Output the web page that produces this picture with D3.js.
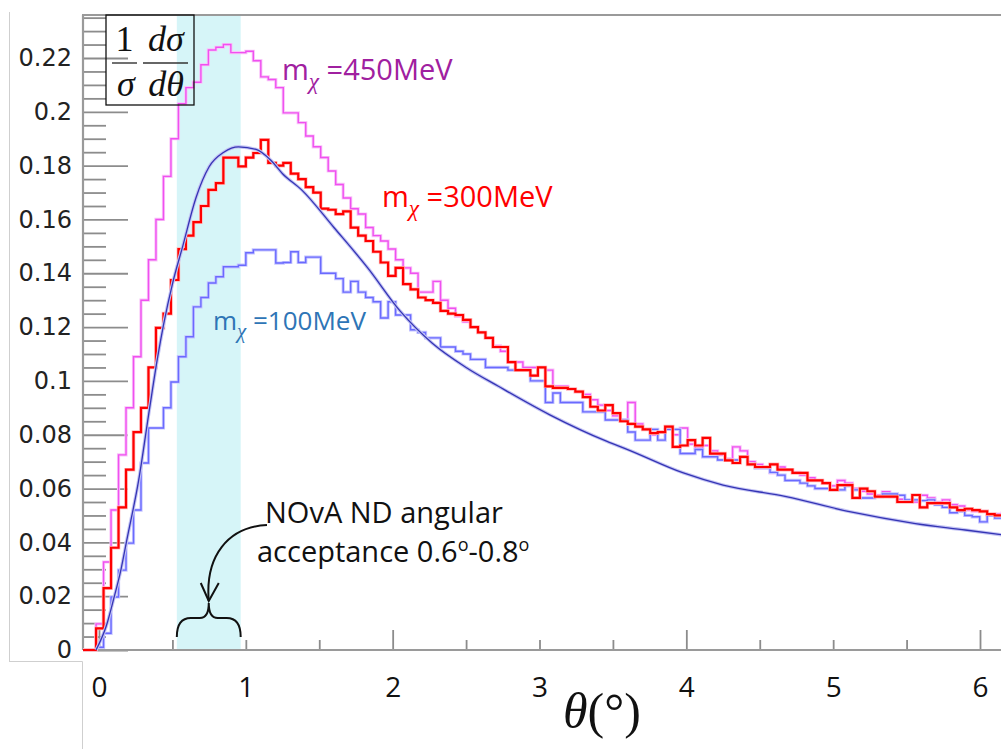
<!DOCTYPE html>
<html lang="en">
<head>
<meta charset="utf-8">
<title>Dark matter angular distribution</title>
<script src="https://cdn.jsdelivr.net/npm/d3@7/dist/d3.min.js"></script>
<style>
  body { margin: 0; background: #fff; }
  svg { display: block; }
</style>
</head>
<body>
<script>
// histogram binning (theta in degrees)
var binStart = -0.02;
var binWidth = 0.051;

// m_chi = 450 MeV
var mass450 = [
  0.0097, 0.0327, 0.052, 0.0725, 0.090, 0.109, 0.130, 0.145, 0.160, 0.176,
  0.190, 0.203, 0.209, 0.211, 0.2175, 0.223, 0.224, 0.225, 0.222, 0.222,
  0.2225, 0.219, 0.213, 0.212, 0.209, 0.1996, 0.1996, 0.196, 0.191, 0.187,
  0.183, 0.178, 0.173, 0.168, 0.164, 0.162, 0.157, 0.154, 0.152, 0.149,
  0.145, 0.142, 0.140, 0.133, 0.133, 0.137, 0.130, 0.127, 0.124, 0.122,
  0.120, 0.118, 0.116, 0.113, 0.111, 0.107, 0.107, 0.105, 0.105, 0.105,
  0.104, 0.098, 0.098, 0.097, 0.096, 0.095, 0.093, 0.091, 0.089, 0.087,
  0.0855, 0.092, 0.084, 0.082, 0.080, 0.081, 0.082, 0.080, 0.0825, 0.0765,
  0.075, 0.076, 0.074, 0.0725, 0.071, 0.0755, 0.074, 0.070, 0.069, 0.068,
  0.0658, 0.068, 0.067, 0.066, 0.065, 0.064, 0.063, 0.062, 0.061, 0.063,
  0.062, 0.060, 0.059, 0.058, 0.0575, 0.0588, 0.057, 0.056, 0.0555, 0.055,
  0.0575, 0.0565, 0.055, 0.0558, 0.054, 0.0535, 0.052, 0.0515, 0.0515, 0.050,
  0.0505, 0.051
];

// m_chi = 300 MeV
var mass300 = [
  0.008, 0.023, 0.038, 0.053, 0.067, 0.081, 0.090, 0.105, 0.1197, 0.125,
  0.1375, 0.149, 0.154, 0.159, 0.165, 0.171, 0.1735, 0.183, 0.183, 0.1797,
  0.183, 0.1847, 0.1896, 0.181, 0.180, 0.181, 0.177, 0.175, 0.172, 0.170,
  0.164, 0.1636, 0.162, 0.163, 0.157, 0.154, 0.152, 0.148, 0.144, 0.139,
  0.142, 0.136, 0.134, 0.131, 0.130, 0.129, 0.126, 0.125, 0.1245, 0.1227,
  0.120, 0.118, 0.116, 0.1126, 0.1126, 0.107, 0.104, 0.104, 0.102, 0.105,
  0.098, 0.0974, 0.0974, 0.097, 0.096, 0.094, 0.0904, 0.089, 0.091, 0.088,
  0.085, 0.084, 0.083, 0.082, 0.0806, 0.081, 0.083, 0.0755, 0.076, 0.078,
  0.076, 0.0788, 0.073, 0.073, 0.0705, 0.0695, 0.0718, 0.069, 0.068, 0.068,
  0.069, 0.067, 0.067, 0.0658, 0.0658, 0.063, 0.063, 0.062, 0.0595, 0.0613,
  0.0613, 0.0565, 0.060, 0.059, 0.057, 0.057, 0.057, 0.055, 0.055, 0.0576,
  0.053, 0.0546, 0.0546, 0.0546, 0.053, 0.052, 0.0525, 0.052, 0.0515, 0.0505,
  0.050, 0.050
];

// m_chi = 100 MeV
var mass100 = [
  0.001, 0.0062, 0.0197, 0.0297, 0.0397, 0.052, 0.0695, 0.0825, 0.0825, 0.090,
  0.0996, 0.109, 0.1164, 0.1275, 0.131, 0.1364, 0.1387, 0.1424, 0.1424, 0.143,
  0.1476, 0.1487, 0.1487, 0.1487, 0.1438, 0.144, 0.148, 0.144, 0.146, 0.146,
  0.140, 0.140, 0.138, 0.133, 0.137, 0.133, 0.131, 0.1294, 0.1234, 0.1294,
  0.1245, 0.1245, 0.119, 0.118, 0.116, 0.116, 0.1126, 0.1126, 0.111, 0.110,
  0.108, 0.108, 0.105, 0.105, 0.105, 0.104, 0.104, 0.104, 0.100, 0.100,
  0.092, 0.0955, 0.092, 0.092, 0.092, 0.0885, 0.0885, 0.0885, 0.0855, 0.0855,
  0.0855, 0.081, 0.078, 0.078, 0.082, 0.078, 0.082, 0.082, 0.073, 0.073,
  0.0745, 0.0718, 0.0718, 0.0706, 0.0706, 0.0706, 0.0718, 0.069, 0.0676, 0.0676,
  0.066, 0.065, 0.063, 0.063, 0.062, 0.061, 0.060, 0.060, 0.0595, 0.0595,
  0.061, 0.0595, 0.0565, 0.0565, 0.057, 0.058, 0.058, 0.0575, 0.0558, 0.0558,
  0.0555, 0.0558, 0.054, 0.053, 0.051, 0.0515, 0.050, 0.0495, 0.0476, 0.050,
  0.049, 0.049
];

// smooth reference curve
var fitTheta = [-0.02, 0.05, 0.1, 0.15, 0.19, 0.27, 0.345, 0.40, 0.44, 0.5,
  0.57, 0.66, 0.75, 0.85, 0.95, 1.07, 1.17, 1.25, 1.38, 1.6,
  1.83, 2.05, 2.27, 2.5, 2.72, 3.07, 3.46, 3.6, 3.98, 4.25,
  4.68, 5.12, 5.56, 5.9, 6.15];
var fitValue = [0, 0.009, 0.019, 0.030, 0.041, 0.063, 0.090, 0.109, 0.121, 0.136,
  0.150, 0.168, 0.1796, 0.185, 0.187, 0.186, 0.182, 0.177, 0.171, 0.157,
  0.142, 0.126, 0.114, 0.105, 0.098, 0.0874, 0.0775, 0.0745, 0.0658, 0.0613,
  0.057, 0.0513, 0.047, 0.0446, 0.0428];

var yTickValues = [0, 0.02, 0.04, 0.06, 0.08, 0.1, 0.12, 0.14, 0.16, 0.18, 0.2, 0.22];
var xTickValues = [0, 1, 2, 3, 4, 5, 6];
var xLongTicks = [0, 2, 4, 6];
var bandRange = [0.53, 0.965];
var seriesLabels = ["=450MeV", "=300MeV", "=100MeV"];

var w = 1001;
var h = 749;
var plotLeft = 83, plotTop = 15, plotBottom = 650;

var svg = d3.select("body").append("svg")
  .attr("width", w)
  .attr("height", h);

var x = d3.scaleLinear().domain([0, 6]).range([99, 980]);
var y = d3.scaleLinear().domain([0, 0.22]).range([plotBottom, 58]);
var xMin = x.invert(plotLeft);
var yMax = y.invert(plotTop);

// outer light frame pieces
var frame = svg.append("g").attr("stroke", "#cfcfcf").attr("stroke-width", 1).attr("fill", "none");
frame.append("line").attr("x1", 9.5).attr("x2", 9.5).attr("y1", 12).attr("y2", 661.5);
frame.append("line").attr("x1", 9).attr("x2", 82.5).attr("y1", 661.5).attr("y2", 661.5);
frame.append("line").attr("x1", 82.5).attr("x2", 82.5).attr("y1", 661.5).attr("y2", h);

// acceptance band
svg.append("rect")
  .attr("x", x(bandRange[0]))
  .attr("y", plotTop)
  .attr("width", x(bandRange[1]) - x(bandRange[0]))
  .attr("height", plotBottom - plotTop)
  .attr("fill", "#d6f5f8");

// y ticks (inward)
var yMinor = d3.range(0, yMax, 0.005).filter(function(d) {
  return Math.abs(d / 0.02 - Math.round(d / 0.02)) > 1e-6;
});
svg.append("g").attr("class", "ytick-major")
  .attr("transform", "translate(" + plotLeft + ",0)")
  .call(d3.axisRight(y).tickValues(yTickValues).tickSize(45).tickFormat(""));
svg.append("g").attr("class", "ytick-minor")
  .attr("transform", "translate(" + plotLeft + ",0)")
  .call(d3.axisRight(y).tickValues(yMinor).tickSize(23).tickFormat(""));

// y labels
var yLab = svg.append("g").attr("class", "ylabels")
  .attr("transform", "translate(" + plotLeft + ",0)")
  .call(d3.axisLeft(y).tickValues(yTickValues).tickSize(0).tickPadding(11)
    .tickFormat(function(d) { return String(+d.toFixed(2)); }));
yLab.selectAll("text")
  .style("font-family", "'DejaVu Sans', sans-serif")
  .style("font-size", "24px")
  .attr("fill", "#222");

// x ticks (inward)
var xMinor = d3.range(0.5, 6.01, 0.5).filter(function(d) { return xLongTicks.indexOf(d) < 0; });
svg.append("g").attr("class", "xtick-major")
  .attr("transform", "translate(0," + plotBottom + ")")
  .call(d3.axisTop(x).tickValues(xLongTicks).tickSize(20).tickFormat(""));
svg.append("g").attr("class", "xtick-minor")
  .attr("transform", "translate(0," + plotBottom + ")")
  .call(d3.axisTop(x).tickValues(xMinor).tickSize(10).tickFormat(""));

// x labels
var xLab = svg.append("g").attr("class", "xlabels")
  .attr("transform", "translate(0," + plotBottom + ")")
  .call(d3.axisBottom(x).tickValues(xTickValues).tickSize(0).tickFormat(d3.format("d")));
xLab.selectAll("text")
  .attr("y", 47)
  .attr("dy", null)
  .style("font-family", "'Open Sans', sans-serif")
  .style("font-size", "28px")
  .attr("fill", "#111");

svg.selectAll(".ytick-major path, .ytick-minor path, .xtick-major path, .xtick-minor path, .ylabels path, .xlabels path").remove();
svg.selectAll(".ytick-major line, .ytick-minor line, .xtick-major line, .xtick-minor line")
  .attr("stroke", "#8c8c8c")
  .attr("stroke-width", 1.8);

// axis frame lines
var axisLines = svg.append("g").attr("stroke", "#9a9a9a").attr("stroke-width", 2.2);
axisLines.append("line").attr("x1", plotLeft).attr("x2", plotLeft).attr("y1", plotTop).attr("y2", plotBottom);
axisLines.append("line").attr("x1", plotLeft).attr("x2", w).attr("y1", plotBottom).attr("y2", plotBottom);
axisLines.append("line").attr("x1", plotLeft - 1).attr("x2", w).attr("y1", plotTop).attr("y2", plotTop);

// histograms
function histPoints(values) {
  var pts = [[xMin, 0], [binStart, 0]];
  values.forEach(function(v, i) { pts.push([binStart + i * binWidth, v]); });
  pts.push([binStart + values.length * binWidth, values[values.length - 1]]);
  return pts;
}
var stepLine = d3.line()
  .x(function(d) { return x(d[0]); })
  .y(function(d) { return y(d[1]); })
  .curve(d3.curveStepAfter);

var plot = svg.append("g").attr("fill", "none");

plot.append("path").attr("d", stepLine(histPoints(mass450)))
  .attr("stroke", "#f9c4f9").attr("stroke-width", 3.2);
plot.append("path").attr("d", stepLine(histPoints(mass450)))
  .attr("stroke", "#f050f0").attr("stroke-width", 1.4);

plot.append("path").attr("d", stepLine(histPoints(mass100)))
  .attr("stroke", "#c6c6ff").attr("stroke-width", 3.2);
plot.append("path").attr("d", stepLine(histPoints(mass100)))
  .attr("stroke", "#6a6aff").attr("stroke-width", 1.4);

plot.append("path").attr("d", stepLine(histPoints(mass300)))
  .attr("stroke", "#ffbcbc").attr("stroke-width", 3.6);
plot.append("path").attr("d", stepLine(histPoints(mass300)))
  .attr("stroke", "#ff0000").attr("stroke-width", 2.2);

var fitLine = d3.line()
  .x(function(d, i) { return x(fitTheta[i]); })
  .y(function(d) { return y(d); })
  .curve(d3.curveMonotoneX);
plot.append("path").attr("d", fitLine(fitValue))
  .attr("stroke", "#c4c4f4").attr("stroke-width", 3.4);
plot.append("path").attr("d", fitLine(fitValue))
  .attr("stroke", "#3434b4").attr("stroke-width", 1.3);

// y-axis title box: (1/sigma) dsigma/dtheta
var box = svg.append("g").attr("class", "ytitle");
box.append("rect").attr("x", 106).attr("y", plotTop).attr("width", 88).attr("height", 90)
  .attr("fill", "none").attr("stroke", "#111").attr("stroke-width", 1.3);
var serif = "'Liberation Serif', 'DejaVu Serif', serif";
function boxText(tx, ty, str, italic) {
  box.append("text").attr("x", tx).attr("y", ty)
    .attr("text-anchor", "middle")
    .style("font-family", serif)
    .style("font-size", "36px")
    .style("font-style", italic ? "italic" : "normal")
    .attr("fill", "#111")
    .text(str);
}
boxText(124.5, 51, "1", false);
boxText(126, 96, "σ", true);
boxText(166, 51, "dσ", true);
boxText(166, 96, "dθ", true);
box.append("line").attr("x1", 112).attr("x2", 137).attr("y1", 63).attr("y2", 63)
  .attr("stroke", "#333").attr("stroke-width", 1.4);
box.append("line").attr("x1", 143).attr("x2", 188).attr("y1", 63).attr("y2", 63)
  .attr("stroke", "#333").attr("stroke-width", 1.4);

// x-axis title
var xt = svg.append("text").attr("x", 563).attr("y", 728)
  .style("font-family", serif).style("font-size", "50px").attr("fill", "#111");
xt.append("tspan").style("font-style", "italic").text("θ");
xt.append("tspan").text("(°)");

// series labels
var labelSpecs = [
  { text: seriesLabels[0], x: 282, y: 80, color: "#a020a0", size: 29 },
  { text: seriesLabels[1], x: 382, y: 207, color: "#ff0000", size: 29 },
  { text: seriesLabels[2], x: 213, y: 330, color: "#2e75b6", size: 26 }
];
labelSpecs.forEach(function(s) {
  var t = svg.append("text").attr("x", s.x).attr("y", s.y)
    .style("font-family", "'Open Sans', sans-serif")
    .style("font-size", s.size + "px")
    .attr("fill", s.color);
  t.append("tspan").text("m");
  t.append("tspan").attr("dy", s.size * 0.3)
    .style("font-family", serif).style("font-style", "italic")
    .style("font-size", (s.size * 0.8) + "px").text("χ");
  t.append("tspan").attr("dy", -s.size * 0.3).text(" " + s.text);
});

// annotation
var note = svg.append("g").attr("class", "note");
var noteFont = "'Open Sans', sans-serif";
note.append("text").attr("x", 265).attr("y", 523)
  .style("font-family", noteFont).style("font-size", "29px").attr("fill", "#111")
  .text("NOvA ND angular");
var l2 = note.append("text").attr("x", 257).attr("y", 562)
  .style("font-family", noteFont).style("font-size", "29px").attr("fill", "#111");
l2.append("tspan").text("acceptance 0.6");
l2.append("tspan").attr("dy", -11).style("font-size", "18px").text("o");
l2.append("tspan").attr("dy", 11).text("-0.8");
l2.append("tspan").attr("dy", -11).style("font-size", "18px").text("o");

var bx0 = x(bandRange[0]), bx1 = x(bandRange[1]), bm = (bx0 + bx1) / 2;
var tipY = 601;
note.append("path")
  .attr("d", "M267,525 C228,527 205,556 " + bm + "," + tipY)
  .attr("fill", "none").attr("stroke", "#111").attr("stroke-width", 2);
note.append("path")
  .attr("d", "M" + (bm - 8) + "," + (tipY - 18) + " L" + bm + "," + tipY + " L" + (bm + 10) + "," + (tipY - 18))
  .attr("fill", "none").attr("stroke", "#111").attr("stroke-width", 2);
note.append("path")
  .attr("d", "M" + bx0 + ",637 Q" + bx0 + ",618 " + (bx0 + 14) + ",618 L" + (bm - 9) + ",618 Q" + bm + ",618 " + bm + ",603" +
    " Q" + bm + ",618 " + (bm + 9) + ",618 L" + (bx1 - 14) + ",618 Q" + bx1 + ",618 " + bx1 + ",637")
  .attr("fill", "none").attr("stroke", "#111").attr("stroke-width", 2);
</script>
</body>
</html>
